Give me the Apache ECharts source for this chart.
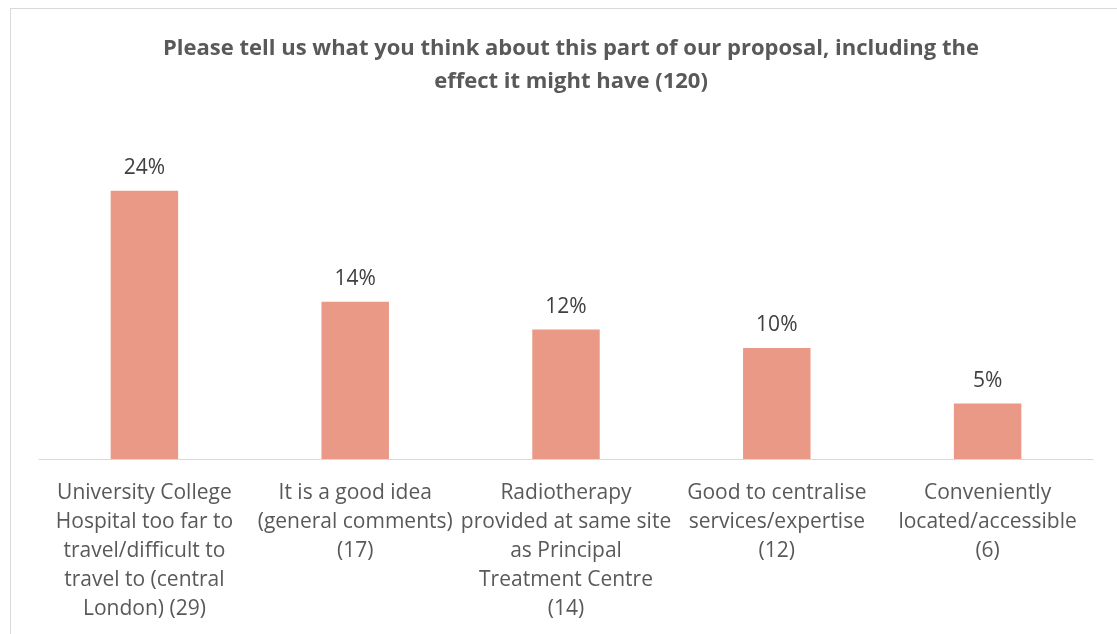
<!DOCTYPE html>
<html>
<head>
<meta charset="utf-8">
<script src="https://cdn.jsdelivr.net/npm/echarts@6/dist/echarts.min.js"></script>
<style>
  html, body { margin: 0; padding: 0; background: #fff; }
  #frame { position: absolute; left: 10px; top: 8px; width: 1107px; height: 626px;
           border-left: 1px solid #d9d9d9; border-top: 1px solid #d9d9d9; box-sizing: border-box; }
  #chart { width: 1117px; height: 634px; }
</style>
</head>
<body>
<div id="frame"></div>
<div id="chart"></div>
<script>
// Response themes (with counts) and share of the 120 responses
const categories = [
  'University College\nHospital too far to\ntravel/difficult to\ntravel to (central\nLondon) (29)',
  'It is a good idea\n(general comments)\n(17)',
  'Radiotherapy\nprovided at same site\nas Principal\nTreatment Centre\n(14)',
  'Good to centralise\nservices/expertise\n(12)',
  'Conveniently\nlocated/accessible\n(6)'
];
const counts = [29, 17, 14, 12, 6];
const totalResponses = 120;
const percentages = counts.map(c => c / totalResponses * 100);

const chart = echarts.init(document.getElementById('chart'), null, { renderer: 'canvas' });
const FONT = '"Open Sans", sans-serif';

chart.setOption({
  backgroundColor: 'transparent',
  animation: false,
  title: {
    text: 'Please tell us what you think about this part of our proposal, including the\neffect it might have (' + totalResponses + ')',
    left: 566,
    top: 27,
    textAlign: 'center',
    textStyle: { fontFamily: FONT, fontSize: 22, fontWeight: 'bold', color: '#595959', lineHeight: 33 }
  },
  grid: { left: 39, right: 24, top: 126, bottom: 175, containLabel: false },
  xAxis: {
    type: 'category',
    data: categories,
    axisLine: { lineStyle: { color: '#d9d9d9', width: 1 } },
    axisTick: { show: false },
    axisLabel: {
      interval: 0, margin: 20,
      fontFamily: FONT, fontSize: 21, color: '#595959', lineHeight: 29, align: 'center'
    }
  },
  yAxis: {
    type: 'value', min: 0, max: 30,
    show: false, splitLine: { show: false }
  },
  series: [{
    type: 'bar',
    data: percentages,
    barWidth: '32%',
    itemStyle: { color: '#EA9987' },
    label: {
      show: true, position: 'top', distance: 12,
      fontFamily: FONT, fontSize: 21, color: '#404040',
      formatter: p => Math.round(p.value) + '%'
    }
  }]
});
</script>
</body>
</html>
